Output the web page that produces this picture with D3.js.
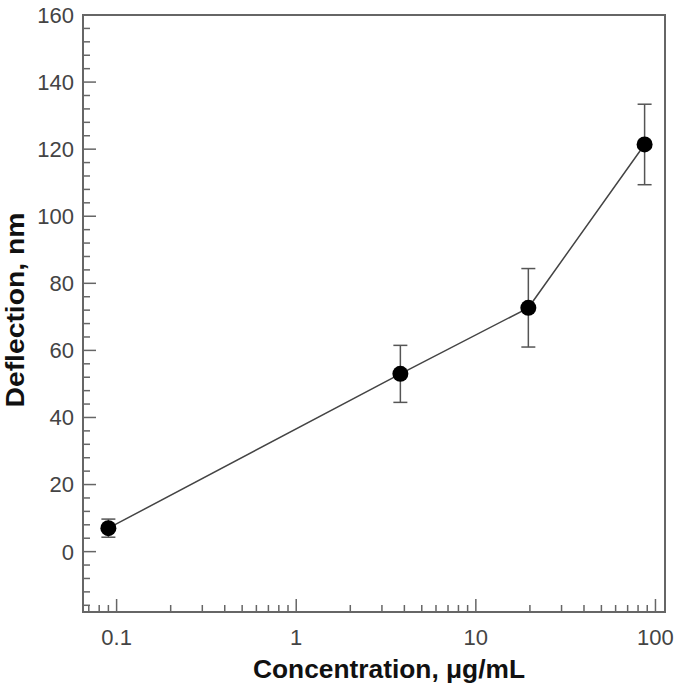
<!DOCTYPE html>
<html><head><meta charset="utf-8">
<script src="https://cdn.jsdelivr.net/npm/d3@7"></script>
<style>body{margin:0;background:#fff}svg{display:block}</style>
</head><body>
<svg id="c" width="680" height="686"></svg>
<script>
const concentration = [0.09, 3.8, 19.6, 87];
const deflection = [7, 53, 72.7, 121.4];
const errorBar = [2.7, 8.5, 11.7, 12];
const yTicks = [0, 20, 40, 60, 80, 100, 120, 140, 160];
const xTicks = [0.1, 1, 10, 100];
const xTickLabels = ["0.1", "1", "10", "100"];

const svg = d3.select("#c");
const L = 83, R = 665, T = 15, B = 612;
const x = d3.scaleLog().domain([0.065, 113]).range([L, R]);
const y = d3.scaleLinear().domain([-18, 160]).range([B, T]);
const axisCol = "#666", font = "Liberation Sans, Arial, Helvetica, sans-serif";

// y minor ticks
const yMinor = d3.range(-16, 161, 4).filter(v => v % 20 !== 0);
const g = svg.append("g");
g.selectAll(".ymin").data(yMinor).enter().append("line")
  .attr("x1", L).attr("x2", L + 7).attr("y1", d => y(d)).attr("y2", d => y(d))
  .attr("stroke", axisCol).attr("stroke-width", 1.5);
g.selectAll(".ymaj").data(yTicks).enter().append("line")
  .attr("x1", L).attr("x2", L + 13).attr("y1", d => y(d)).attr("y2", d => y(d))
  .attr("stroke", axisCol).attr("stroke-width", 1.5);
g.selectAll(".ylab").data(yTicks).enter().append("text")
  .attr("x", 74).attr("y", d => y(d)).attr("dy", "0.36em")
  .attr("text-anchor", "end").attr("font-family", font).attr("font-size", 22)
  .attr("fill", "#444").text(d => d);

// x ticks
const xMinor = [];
[0.01, 0.1, 1, 10].forEach(dec => { for (let k = 2; k <= 9; k++) { const v = dec * k; if (v >= 0.065 && v < 100) xMinor.push(v); } });
g.selectAll(".xmin").data(xMinor).enter().append("line")
  .attr("x1", d => x(d)).attr("x2", d => x(d)).attr("y1", B).attr("y2", B - 7)
  .attr("stroke", axisCol).attr("stroke-width", 1.5);
g.selectAll(".xmaj").data(xTicks).enter().append("line")
  .attr("x1", d => x(d)).attr("x2", d => x(d)).attr("y1", B).attr("y2", B - 13)
  .attr("stroke", axisCol).attr("stroke-width", 1.5);
g.selectAll(".xlab").data(xTicks).enter().append("text")
  .attr("x", d => x(d)).attr("y", 645)
  .attr("text-anchor", "middle").attr("font-family", font).attr("font-size", 22)
  .attr("fill", "#444").text((d, i) => xTickLabels[i]);

// frame
svg.append("rect").attr("x", L).attr("y", T).attr("width", R - L).attr("height", B - T)
  .attr("fill", "none").attr("stroke", axisCol).attr("stroke-width", 2);

// data line
const pts = concentration.map((c, i) => [c, deflection[i], errorBar[i]]);
svg.append("path").datum(pts)
  .attr("d", d3.line().x(d => x(d[0])).y(d => y(d[1])))
  .attr("fill", "none").attr("stroke", "#444").attr("stroke-width", 1.5);

// error bars
const eb = svg.append("g").attr("stroke", "#555").attr("stroke-width", 1.5);
pts.forEach(d => {
  const cx = x(d[0]);
  eb.append("line").attr("x1", cx).attr("x2", cx).attr("y1", y(d[1] - d[2])).attr("y2", y(d[1] + d[2]));
  [d[1] - d[2], d[1] + d[2]].forEach(v => eb.append("line").attr("x1", cx - 7).attr("x2", cx + 7).attr("y1", y(v)).attr("y2", y(v)));
});

// markers
svg.selectAll(".pt").data(pts).enter().append("circle")
  .attr("cx", d => x(d[0])).attr("cy", d => y(d[1])).attr("r", 8).attr("fill", "#000");

// titles
svg.append("text").attr("x", 389).attr("y", 678).attr("text-anchor", "middle")
  .attr("font-family", font).attr("font-weight", "bold").attr("font-size", 25).attr("fill", "#111")
  .attr("textLength", 272).attr("lengthAdjust", "spacingAndGlyphs")
  .text("Concentration, μg/mL");
svg.append("text").attr("transform", "translate(24,310) rotate(-90)").attr("text-anchor", "middle")
  .attr("font-family", font).attr("font-weight", "bold").attr("font-size", 25).attr("fill", "#111")
  .attr("textLength", 195).attr("lengthAdjust", "spacingAndGlyphs")
  .text("Deflection, nm");
</script>
</body></html>
